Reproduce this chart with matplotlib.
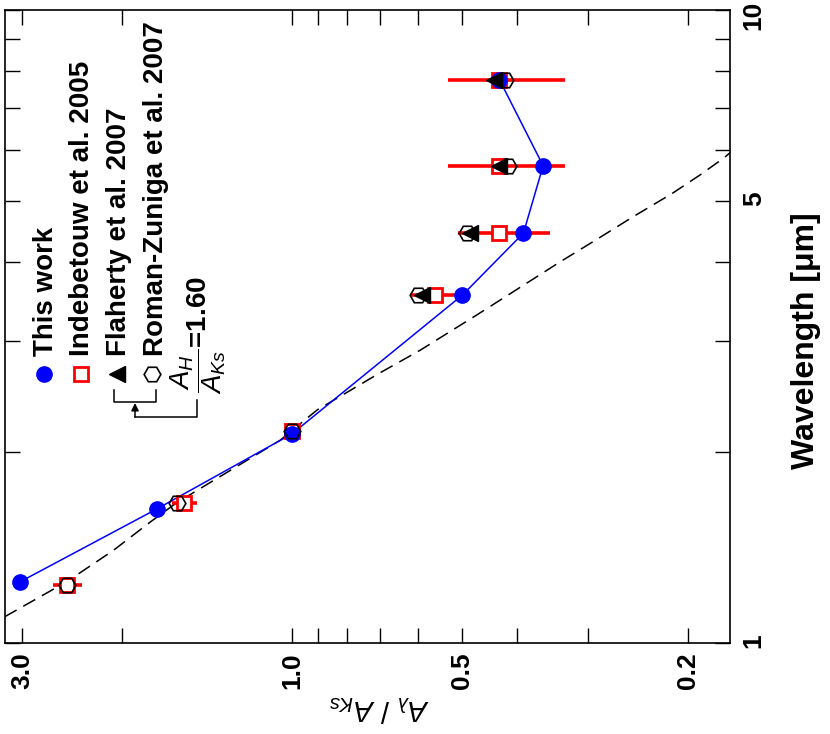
import numpy as np
import matplotlib
matplotlib.use('Agg')
import matplotlib.pyplot as plt
from matplotlib.ticker import FixedLocator, FixedFormatter, NullFormatter

plt.rcParams['font.family'] = ['Liberation Sans', 'DejaVu Sans']
plt.rcParams['mathtext.fontset'] = 'custom'
plt.rcParams['mathtext.it'] = 'Liberation Sans:italic'
plt.rcParams['mathtext.rm'] = 'Liberation Sans'

# wavelength [um] and A_lambda / A_Ks
wl_this = [1.25, 1.63, 2.14, 3.545, 4.442, 5.675, 7.760]
ext_this = [3.02, 1.73, 1.00, 0.50, 0.39, 0.36, 0.43]

wl_ind = [1.235, 1.662, 2.159, 3.545, 4.442, 5.675, 7.760]
ext_ind = [2.50, 1.55, 1.00, 0.56, 0.43, 0.43, 0.43]
err_ind = [0.15, 0.08, 0.0, 0.06, 0.08, 0.10, 0.10]

wl_fla = [3.545, 4.442, 5.675, 7.760]
ext_fla = [0.59, 0.485, 0.43, 0.44]

wl_rz = [1.235, 1.662, 2.159, 3.545, 4.442, 5.675, 7.760]
ext_rz = [2.50, 1.60, 1.00, 0.60, 0.49, 0.415, 0.42]

# dashed model curve
wl_model = [1.10, 1.25, 1.40, 1.553, 1.665, 2.09, 2.334, 2.67, 2.90, 3.30,
            4.00, 4.37, 4.71, 5.13, 5.49, 5.85, 6.10]
ext_model = [3.22, 2.50, 2.07, 1.78, 1.60, 1.05, 0.903, 0.70, 0.594, 0.471,
             0.336, 0.286, 0.25, 0.213, 0.19, 0.172, 0.163]

xmajor = [3.0, 1.0, 0.5, 0.2]
xmajor_lab = ['3.0', '1.0', '0.5', '0.2']
xminor = [2.0, 0.9, 0.8, 0.7, 0.6, 0.4, 0.3]
ymajor = [1, 5, 10]
ymajor_lab = ['1', '5', '10']
yminor = [2, 3, 4, 6, 7, 8, 9]

W, H = 830, 734
fig = plt.figure(figsize=(W / 100, H / 100), dpi=100)
# axes box in pixels: x 5..730, y 10..643
ax = fig.add_axes([5 / W, (H - 643) / H, 725 / W, 633 / H])

# plot is drawn rotated by 90 deg: x = extinction ratio, y = wavelength
ax.plot(ext_model, wl_model, color='black', lw=1.1, dashes=(9, 5), zorder=1)
ax.plot(ext_this, wl_this, '-', color='blue', lw=1.1, zorder=1.5)
ax.errorbar(ext_ind, wl_ind, xerr=err_ind, fmt='none', ecolor='red',
            elinewidth=2.6, capsize=0, zorder=2)
ax.plot(ext_ind, wl_ind, 's', mfc='white', mec='red', mew=2.0, ms=10.5,
        ls='none', zorder=3)
ax.plot(ext_this, wl_this, 'o', color='blue', ms=11, ls='none', zorder=4)
ax.plot(ext_fla, wl_fla, '<', color='black', ms=12, ls='none', zorder=5)
ax.plot(ext_rz, wl_rz, 'H', mfc='none', mec='black', mew=1.2, ms=12,
        ls='none', zorder=6)

ax.set_xscale('log')
ax.set_yscale('log')
ax.set_xlim(3.215, 0.1683)
ax.set_ylim(1, 10)

ax.xaxis.set_major_locator(FixedLocator(xmajor))
ax.xaxis.set_major_formatter(FixedFormatter(xmajor_lab))
ax.xaxis.set_minor_locator(FixedLocator(xminor))
ax.xaxis.set_minor_formatter(NullFormatter())
ax.yaxis.set_major_locator(FixedLocator(ymajor))
ax.yaxis.set_major_formatter(FixedFormatter(ymajor_lab))
ax.yaxis.set_minor_locator(FixedLocator(yminor))
ax.yaxis.set_minor_formatter(NullFormatter())

ax.tick_params(axis='both', which='both', direction='in', length=11,
               width=1.0, top=True, bottom=True, left=True, right=True)
ax.tick_params(axis='x', labelsize=19, pad=6.5, labelrotation=90)
ax.tick_params(axis='y', labelsize=19, pad=8.5, labelrotation=90,
               labelleft=False, labelright=True)
for lab in ax.get_xticklabels() + ax.get_yticklabels():
    lab.set_fontweight('bold')
for s in ax.spines.values():
    s.set_linewidth(1.2)

ax.set_xlabel(r'$A_{\lambda}\ /\ A_{Ks}$', fontsize=21, rotation=180)
ax.xaxis.label.set(va='top', ha='center')
ax.xaxis.set_label_coords(0.515, -0.079)

ax.set_ylabel('Wavelength [μm]', fontsize=23, fontweight='bold')
ax.yaxis.set_label_position('right')
ax.yaxis.label.set(rotation=90, rotation_mode='default', va='center', ha='center')
ax.yaxis.set_label_coords(1.105, 0.477)


def ac(px, py):
    # pixel position -> axes fraction (legend decoration only)
    return (px - 5) / 725, (643 - py) / 633


# hand-made legend, rotated like the plot
leg_items = [
    ('This work', dict(marker='o', color='blue', ms=11), 44, 53),
    ('Indebetouw et al. 2005', dict(marker='s', mfc='white', mec='red', mew=2.0, ms=10.5), 81, 89),
    ('Flaherty et al. 2007', dict(marker='<', color='black', ms=11), 117, 126),
    ('Roman-Zuniga et al. 2007', dict(marker='H', mfc='none', mec='black', mew=1.2, ms=12), 152, 163),
]
for label, mk, mx, tx in leg_items:
    x0, y0 = ac(mx, 374)
    ax.plot([x0], [y0], ls='none', transform=ax.transAxes, clip_on=False, **mk)
    x1, y1 = ac(tx, 356)
    ax.text(x1, y1, label, transform=ax.transAxes, rotation=90,
            rotation_mode='anchor', ha='left', va='baseline',
            fontsize=20, fontweight='bold')

x1, y1 = ac(207, 394)
ax.text(x1, y1, r'$\dfrac{A_H}{A_{Ks}}$=1.60', transform=ax.transAxes,
        rotation=90, rotation_mode='anchor', ha='left', va='baseline',
        fontsize=20, fontweight='bold')

br = [ac(114, 390), ac(114, 402), ac(156, 402), ac(156, 390)]
ax.plot([p[0] for p in br], [p[1] for p in br], color='black', lw=1.1,
        transform=ax.transAxes, clip_on=False)
br2 = [ac(135, 417), ac(197, 417), ac(197, 400)]
ax.plot([p[0] for p in br2], [p[1] for p in br2], color='black', lw=1.1,
        transform=ax.transAxes, clip_on=False)
ax.annotate('', xy=ac(135, 403), xytext=ac(135, 417), xycoords='axes fraction',
            textcoords='axes fraction',
            arrowprops=dict(arrowstyle='-|>', color='black', lw=1.1,
                            mutation_scale=11, shrinkA=0, shrinkB=0))

fig.savefig('out.png', dpi=100)
